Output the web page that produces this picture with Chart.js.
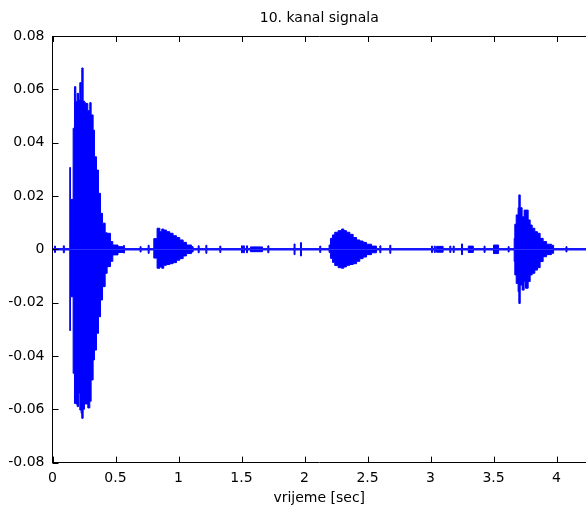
<!DOCTYPE html>
<html>
<head>
<meta charset="utf-8">
<script src="https://cdn.jsdelivr.net/npm/chart.js@4.4.1/dist/chart.umd.min.js"></script>
<style>
  html, body { margin: 0; padding: 0; background: #fff; overflow: hidden; }
  #wrap { width: 586px; height: 511px; position: relative; }
</style>
</head>
<body>
<div id="wrap"><canvas id="c" width="586" height="511"></canvas></div>
<script>
// Channel 10: min/max envelope of the recorded signal, amplitude vs time (s).
// Each burst is a list of step points: the value holds from that time to the next one.
const T_END = 4.234;
const FLOOR = 0.00025;   // amplitude of the quiet background

const burst1Time  = [0.137, 0.1426, 0.1637, 0.1744, 0.185, 0.1955, 0.206, 0.2167, 0.2272, 0.2325, 0.2431, 0.2537, 0.2643, 0.2802, 0.296, 0.3066, 0.3225, 0.333, 0.349, 0.365, 0.381, 0.397, 0.418, 0.4336, 0.46, 0.4786, 0.52, 0.571];
const burst1Upper = [0.0307, 0.0187, 0.0454, 0.0610, 0.0554, 0.0585, 0.0560, 0.0625, 0.0560, 0.0680, 0.0556, 0.0550, 0.0547, 0.0520, 0.0550, 0.0504, 0.0447, 0.0347, 0.0297, 0.0210, 0.0135, 0.0098, 0.0062, 0.0060, 0.0029, 0.0016, 0.0010, 0.00025];
const burst1Lower = [-0.0305, -0.0178, -0.0465, -0.0578, -0.0580, -0.0590, -0.0540, -0.0603, -0.0615, -0.0634, -0.0600, -0.0580, -0.0580, -0.0595, -0.0570, -0.0490, -0.0415, -0.0378, -0.0315, -0.0253, -0.0190, -0.0140, -0.0090, -0.0065, -0.0045, -0.0021, -0.0012, -0.00025];

const burst2Time  = [0.804, 0.830, 0.852, 0.867, 0.883, 0.905, 0.931, 0.957, 0.984, 1.010, 1.037, 1.063, 1.103, 1.116];
const burst2Upper = [0.0040, 0.0079, 0.0066, 0.0076, 0.0072, 0.0066, 0.0060, 0.0051, 0.0044, 0.0035, 0.0026, 0.0016, 0.0010, 0.00025];
const burst2Lower = [-0.0033, -0.0071, -0.0066, -0.0071, -0.0060, -0.0057, -0.0054, -0.0050, -0.0041, -0.0035, -0.0025, -0.0016, -0.0010, -0.00025];

const burst3Time  = [2.195, 2.206, 2.222, 2.240, 2.267, 2.294, 2.312, 2.333, 2.360, 2.386, 2.413, 2.439, 2.465, 2.492, 2.532, 2.571];
const burst3Upper = [0.0016, 0.0041, 0.0054, 0.0064, 0.0070, 0.0076, 0.0070, 0.0064, 0.0056, 0.0044, 0.0035, 0.0031, 0.0026, 0.0019, 0.0012, 0.00025];
const burst3Lower = [-0.0012, -0.0034, -0.0049, -0.0061, -0.0069, -0.0071, -0.0066, -0.0060, -0.0057, -0.0054, -0.0045, -0.0035, -0.0029, -0.0020, -0.0013, -0.00025];

const burst4Time  = [3.664, 3.669, 3.680, 3.695, 3.701, 3.712, 3.727, 3.743, 3.754, 3.775, 3.791, 3.807, 3.828, 3.849, 3.870, 3.894, 3.921, 3.960, 3.977];
const burst4Upper = [0.0041, 0.0094, 0.0129, 0.0156, 0.0204, 0.0156, 0.0122, 0.0147, 0.0147, 0.0110, 0.0091, 0.0079, 0.0066, 0.0060, 0.0041, 0.0029, 0.0019, 0.0015, 0.00025];
const burst4Lower = [-0.0046, -0.0096, -0.0128, -0.0159, -0.0203, -0.0134, -0.0153, -0.0121, -0.0146, -0.0121, -0.0096, -0.0090, -0.0078, -0.0069, -0.0046, -0.0028, -0.0020, -0.0015, -0.00025];

// short clicks and noise patches in the quiet parts (symmetric amplitude)
const clickStart = [0.016, 0.086, 0.563, 0.695, 0.759, 1.156, 1.217, 1.328, 1.500, 1.515, 1.540, 1.571, 1.709, 1.917, 1.968, 2.121, 2.598, 2.677, 3.008, 3.030, 3.048, 3.153, 3.180, 3.246, 3.300, 3.425, 3.500, 3.616, 4.075];
const clickEnd   = [0.024, 0.094, 0.571, 0.703, 0.767, 1.164, 1.225, 1.336, 1.508, 1.523, 1.548, 1.667, 1.717, 1.925, 1.976, 2.129, 2.606, 2.685, 3.016, 3.038, 3.100, 3.161, 3.188, 3.254, 3.340, 3.433, 3.540, 3.624, 4.083];
const clickAmp   = [0.0012, 0.0013, 0.0014, 0.0010, 0.0015, 0.0013, 0.0015, 0.0012, 0.0013, 0.0013, 0.0013, 0.0009, 0.0013, 0.0020, 0.0025, 0.0012, 0.0013, 0.0015, 0.0012, 0.0012, 0.0011, 0.0012, 0.0012, 0.0020, 0.0012, 0.0012, 0.0016, 0.0010, 0.0010];

const xTickStep = 0.5;
const yTicks = { min: -0.08, max: 0.08, step: 0.02 };

// ---- assemble the step envelope ----
const steps = [{ t: 0, hi: FLOOR, lo: -FLOOR }];
clickStart.forEach((s, i) => {
  steps.push({ t: s, hi: clickAmp[i], lo: -clickAmp[i] });
  steps.push({ t: clickEnd[i], hi: FLOOR, lo: -FLOOR });
});
[[burst1Time, burst1Upper, burst1Lower],
 [burst2Time, burst2Upper, burst2Lower],
 [burst3Time, burst3Upper, burst3Lower],
 [burst4Time, burst4Upper, burst4Lower]].forEach(([tt, up, lo]) => {
  tt.forEach((t, i) => steps.push({ t, hi: up[i], lo: lo[i] }));
});
steps.push({ t: T_END, hi: FLOOR, lo: -FLOOR });
steps.sort((a, b) => a.t - b.t);

// each step becomes two points at the same time: old level, then new level
function stepPoints(key) {
  const pts = [];
  steps.forEach((s, i) => {
    if (i > 0) pts.push({ x: s.t, y: steps[i - 1][key] });
    pts.push({ x: s.t, y: s[key] });
  });
  return pts;
}

const BLUE = '#0000ff';
const FONT = { family: '"DejaVu Sans", Verdana, sans-serif', size: 14 };

// box on top and inward tick marks, MATLAB style
const frameTicks = {
  id: 'frameTicks',
  afterDatasetsDraw(chart) {
    const { ctx, chartArea: a, scales: { x, y } } = chart;
    const len = 6;
    ctx.save();
    ctx.strokeStyle = '#000';
    ctx.lineWidth = 1;
    ctx.beginPath();
    const top = Math.floor(a.top) + 0.5;
    ctx.moveTo(a.left, top);
    ctx.lineTo(a.right, top);
    x.ticks.forEach(t => {
      const px = Math.round(x.getPixelForValue(t.value)) + 0.5;
      ctx.moveTo(px, a.top); ctx.lineTo(px, a.top + len);
      ctx.moveTo(px, a.bottom); ctx.lineTo(px, a.bottom - len);
    });
    y.ticks.forEach(t => {
      const py = Math.round(y.getPixelForValue(t.value)) + 0.5;
      ctx.moveTo(a.left, py); ctx.lineTo(a.left + len, py);
    });
    ctx.stroke();
    ctx.restore();
  }
};

// maxima filled down to zero, minima filled up to zero
const lineStyle = {
  stepped: true,
  borderColor: BLUE,
  backgroundColor: BLUE,
  borderWidth: 1,
  pointRadius: 0,
  fill: 'origin'
};

new Chart(document.getElementById('c'), {
  type: 'line',
  data: {
    datasets: [
      { label: 'max', data: stepPoints('hi'), ...lineStyle },
      { label: 'min', data: stepPoints('lo'), ...lineStyle }
    ]
  },
  options: {
    responsive: false,
    animation: false,
    events: [],
    layout: { padding: 0 },
    plugins: {
      legend: { display: false },
      tooltip: { enabled: false },
      title: {
        display: true,
        fullSize: false,
        text: '10. kanal signala',
        color: '#000',
        font: { ...FONT, weight: 'normal' },
        padding: { top: 10, bottom: 9.2 }
      }
    },
    scales: {
      x: {
        type: 'linear',
        min: 0,
        max: T_END,
        afterFit(s) { s.height = 48.4; },
        grid: { display: false, drawTicks: false },
        border: { display: true, color: '#000', width: 1 },
        ticks: {
          stepSize: xTickStep,
          includeBounds: false,
          autoSkip: false,
          maxRotation: 0,
          color: '#000',
          font: FONT,
          padding: 7,
          callback: v => String(v)
        },
        title: {
          display: true,
          text: 'vrijeme [sec]',
          color: '#000',
          font: FONT,
          padding: { top: 0, bottom: 4 }
        }
      },
      y: {
        min: yTicks.min,
        max: yTicks.max,
        afterFit(s) { s.width = 52.5; },
        grid: { display: false, drawTicks: false },
        border: { display: true, color: '#000', width: 1 },
        ticks: {
          stepSize: yTicks.step,
          autoSkip: false,
          color: '#000',
          font: FONT,
          padding: 8,
          callback: v => String(Math.round(v * 100) / 100)
        }
      }
    }
  },
  plugins: [frameTicks]
});
</script>
</body>
</html>
